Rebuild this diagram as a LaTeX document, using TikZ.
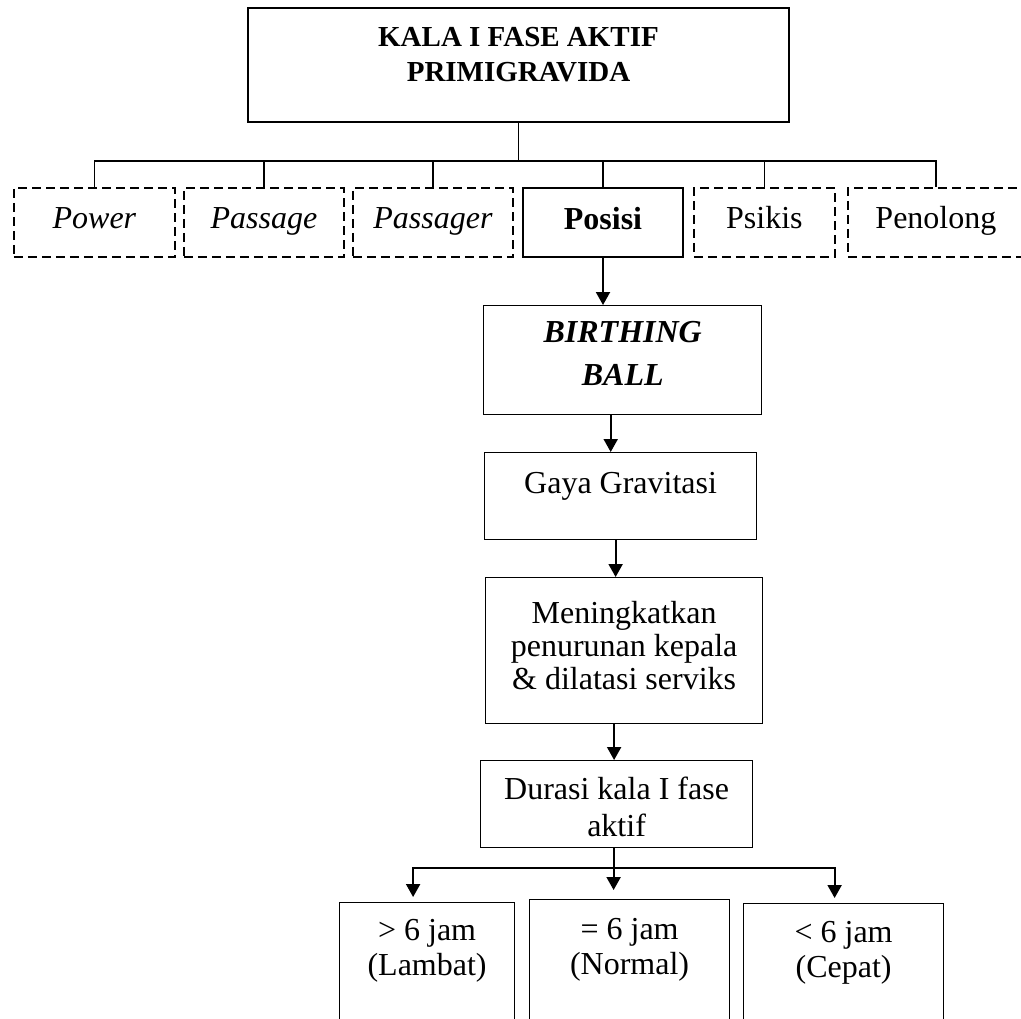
\documentclass[tikz,border=0pt]{standalone}
\usepackage{fontspec}
\setmainfont{Liberation Serif}
\usetikzlibrary{arrows.meta}

\begin{document}
\begin{tikzpicture}[x=0.5pt,y=-0.5pt,>={Triangle[width=7pt,length=6.5pt]},
                    box/.style={draw,line width=0.6pt,inner sep=0pt,align=flush center,anchor=north west,
                                font=\fontsize{16}{18.5}\selectfont},
                    factor/.style={box,line width=0.9pt,dash pattern=on 4.5pt off 2.5pt,
                                   text height=20.5pt,text depth=14pt},
                    boxsize/.style n args={3}{text width=#1,text height=#2,text depth=#3},
                    bus/.style={line width=0.7pt},
                    arrow/.style={->,line width=1pt}]
  \useasboundingbox (0,0) rectangle (1021,1018);
  % top title
  \node[box,line width=1pt,boxsize={270.5pt}{19pt}{38pt},
        font=\fontsize{14.5}{17.5}\selectfont\bfseries] (top) at (247,7)
        {KALA I FASE AKTIF\\PRIMIGRAVIDA};
  % six factors
  \node[factor,text width=80.5pt] (p1) at (13,187) {\itshape Power};
  \node[factor,text width=80pt] (p2) at (183,187) {\itshape Passage};
  \node[factor,text width=80pt] (p3) at (352,187) {\itshape Passager};
  \node[factor,text width=80pt,solid,line width=1pt] (p4) at (522,187) {\bfseries Posisi};
  \node[factor,text width=70.5pt] (p5) at (693,187) {Psikis};
  \node[factor,text width=88pt] (p6) at (847,187) {Penolong};
  % chain
  \node[box,line width=0.7pt,boxsize={139pt}{18.5pt}{36pt},
        font=\fontsize{16}{21.5}\selectfont\bfseries\itshape] (birth) at (483,305)
        {BIRTHING\\BALL};
  \node[box,boxsize={136pt}{20.5pt}{23pt}] (gaya) at (484,452) {Gaya Gravitasi};
  \node[box,boxsize={138.5pt}{23pt}{50pt},font=\fontsize{16}{16.5}\selectfont] (mening) at (485,577)
        {Meningkatkan\\penurunan kepala\\\& dilatasi serviks};
  \node[box,boxsize={136pt}{19.5pt}{24pt}] (durasi) at (480,760) {Durasi kala I fase\\aktif};
  % outcomes (cut off below)
  \node[box,boxsize={87.5pt}{19pt}{45pt},font=\fontsize{16}{17.5}\selectfont] (lambat) at (339,902)
        {> 6 jam\\(Lambat)};
  \node[box,boxsize={100pt}{20pt}{45.5pt},font=\fontsize{16}{17.5}\selectfont] (normal) at (529,899)
        {= 6 jam\\(Normal)};
  \node[box,boxsize={100pt}{19.5pt}{44pt},font=\fontsize{16}{17.5}\selectfont] (cepat) at (743,903)
        {< 6 jam\\(Cepat)};

  % connectors
  \draw[bus] (top.south) -- ++(0,38) coordinate (hub);
  \draw[bus] (p1.north) |- (hub) -| (p6.north);
  \foreach \n in {p2,p3,p4,p5}
    \draw[bus] (\n.north) -- (\n.north |- hub);
  \draw[arrow] (p4.south) -- (p4.south |- birth.north);
  \draw[arrow] ([xshift=-6pt]birth.south) -- ([xshift=-6pt]birth.south |- gaya.north);
  \draw[arrow] ([xshift=-2.5pt]gaya.south) -- ([xshift=-2.5pt]gaya.south |- mening.north);
  \draw[arrow] ([xshift=-5pt]mening.south) -- ([xshift=-5pt]mening.south |- durasi.north);
  \draw[line width=1pt] ([xshift=-1.5pt]durasi.south) -- ++(0,20) coordinate (split);
  \draw[arrow,shorten >=4.5pt] (split) -- (split |- normal.north);
  \draw[arrow,shorten >=2.5pt] (split) -| ([xshift=-7pt]lambat.north);
  \draw[arrow,shorten >=2.5pt] (split) -| ([xshift=-4.5pt]cepat.north);
\end{tikzpicture}
\end{document}
